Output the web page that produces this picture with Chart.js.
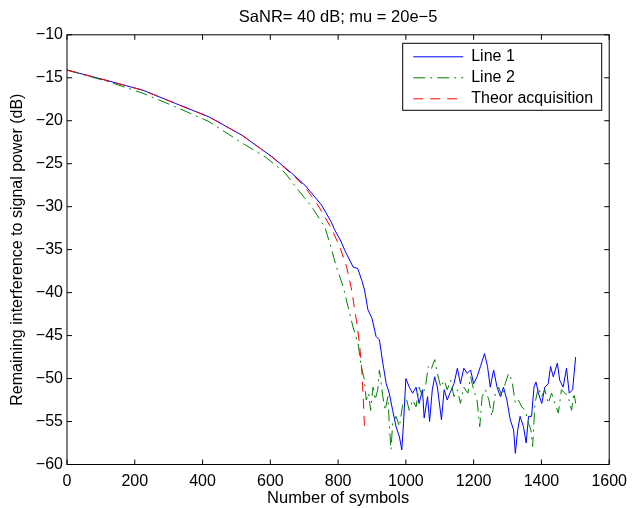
<!DOCTYPE html>
<html>
<head>
<meta charset="utf-8">
<script src="https://cdn.jsdelivr.net/npm/chart.js@4.4.1/dist/chart.umd.min.js"></script>
<style>
  body { margin: 0; background: #fff; }
  canvas { display: block; }
</style>
</head>
<body>
<canvas id="grafica" width="634" height="508"></canvas>
<script>
// ================== Datos ==================
const TITULO = "SaNR= 40 dB; mu = 20e\u22125";
const NOMBRES = ["Line 1", "Line 2", "Theor acquisition"];
const X_TICKS = [0, 200, 400, 600, 800, 1000, 1200, 1400, 1600];
const Y_TICKS = [-60, -55, -50, -45, -40, -35, -30, -25, -20, -15, -10];

const line1X = [0, 126, 224, 321, 419, 517, 605, 663, 702, 751,
  780, 790, 808, 820, 844, 858, 870, 878, 888, 900,
  912, 922, 932, 942, 951, 961, 971, 981, 988, 993,
  1000, 1010, 1020, 1030, 1039, 1049, 1054, 1064, 1070, 1078,
  1085, 1093, 1105, 1113, 1122, 1130, 1142, 1152, 1161, 1171,
  1181, 1191, 1200, 1210, 1220, 1232, 1241, 1249, 1259, 1269,
  1279, 1288, 1298, 1308, 1318, 1323, 1330, 1337, 1347, 1355,
  1362, 1371, 1378, 1384, 1391, 1401, 1410, 1420, 1427, 1435,
  1447, 1454, 1464, 1474, 1482, 1492, 1501];
const line1Y = [-14.1, -15.4, -16.45, -18.0, -19.55, -21.7, -24.2, -26.1, -27.5, -29.8,
  -31.8, -32.7, -34.0, -35.1, -37.0, -37.2, -38.6, -39.7, -42.0, -43.0,
  -45.1, -45.5, -48.2, -50.6, -51.7, -53.7, -55.6, -56.8, -58.3, -55.2,
  -50.0, -51.0, -51.7, -51.0, -52.9, -51.3, -54.6, -52.1, -55.0, -51.3,
  -49.8, -51.0, -54.8, -51.3, -52.5, -51.7, -50.6, -48.8, -50.6, -48.8,
  -49.4, -49.0, -50.6, -49.8, -48.6, -47.1, -48.6, -51.0, -49.0, -51.0,
  -52.1, -51.0, -52.5, -54.8, -56.0, -58.7, -56.0, -54.4, -55.6, -57.5,
  -54.4, -54.4, -51.0, -50.4, -51.7, -52.9, -51.0, -50.6, -48.6, -49.8,
  -48.2, -50.2, -51.0, -48.8, -51.7, -51.3, -47.5];

const line2X = [0, 126, 224, 321, 419, 517, 585, 644, 683, 722,
  761, 776, 795, 815, 829, 844, 859, 868, 878, 883,
  890, 896, 903, 909, 917, 922, 932, 939, 947, 951,
  956, 961, 971, 981, 991, 1000, 1010, 1020, 1030, 1039,
  1049, 1059, 1066, 1074, 1085, 1093, 1103, 1113, 1122, 1132,
  1142, 1152, 1161, 1171, 1183, 1191, 1200, 1210, 1218, 1225,
  1235, 1245, 1254, 1264, 1274, 1284, 1293, 1303, 1313, 1323,
  1332, 1342, 1352, 1362, 1369, 1374, 1381, 1391, 1401, 1410,
  1420, 1430, 1440, 1450, 1459, 1469, 1479, 1489, 1496, 1501];
const line2Y = [-14.1, -15.5, -16.8, -18.4, -20.1, -22.6, -24.2, -26.1, -28.1, -30.0,
  -32.4, -34.3, -37.0, -39.3, -41.6, -44.0, -45.9, -48.6, -50.2, -52.5,
  -51.7, -53.7, -51.0, -52.5, -51.3, -49.0, -52.1, -53.7, -52.1, -55.2,
  -58.3, -55.2, -54.4, -55.6, -52.9, -52.1, -53.7, -52.5, -53.3, -51.0,
  -52.1, -50.6, -48.6, -49.0, -47.8, -49.4, -51.0, -50.2, -51.3, -50.2,
  -52.1, -51.3, -52.9, -51.0, -51.7, -49.8, -51.3, -52.5, -55.6, -52.1,
  -51.3, -52.5, -54.4, -51.7, -51.0, -52.1, -50.6, -49.4, -50.2, -52.9,
  -52.5, -53.3, -53.7, -55.2, -56.0, -57.9, -52.9, -51.0, -52.1, -51.3,
  -52.9, -51.7, -52.9, -54.0, -51.3, -51.7, -52.1, -53.7, -51.7, -52.9];

const theorX = [0, 126, 224, 321, 419, 517, 605, 663, 702, 740,
  780, 805, 825, 840, 854, 863, 870, 874, 878];
const theorY = [-14.1, -15.4, -16.45, -18.0, -19.55, -21.7, -24.2, -26.2, -27.7, -29.8,
  -32.5, -34.7, -37.0, -39.7, -43.2, -45.9, -49.0, -52.1, -55.8];

// ================== Util ==================
function puntos(xs, ys) {
  return xs.map((x, i) => ({ x: x, y: ys[i] }));
}
function menos(v) {
  return v < 0 ? "\u2212" + (-v) : String(v);
}

// Marco tipo MATLAB: caja completa y ticks hacia dentro
const marco = {
  id: "marco",
  afterDatasetsDraw(chart) {
    const { ctx, chartArea: a, scales } = chart;
    ctx.save();
    ctx.strokeStyle = "#000";
    ctx.lineWidth = 1;
    ctx.strokeRect(a.left, a.top, a.right - a.left, a.bottom - a.top);
    ctx.beginPath();
    X_TICKS.forEach(v => {
      const px = scales.x.getPixelForValue(v);
      ctx.moveTo(px, a.bottom); ctx.lineTo(px, a.bottom - 5);
      ctx.moveTo(px, a.top); ctx.lineTo(px, a.top + 5);
    });
    Y_TICKS.forEach(v => {
      const py = scales.y.getPixelForValue(v);
      ctx.moveTo(a.left, py); ctx.lineTo(a.left + 5, py);
      ctx.moveTo(a.right, py); ctx.lineTo(a.right - 5, py);
    });
    ctx.stroke();
    ctx.restore();
  }
};

// Leyenda dentro del area, esquina superior derecha, con recuadro
const cajaLeyenda = {
  id: "cajaLeyenda",
  afterLayout(chart) {
    const lg = chart.legend, a = chart.chartArea;
    lg.left = a.right - 201;
    lg.top = a.top + 9;
  },
  afterDraw(chart) {
    const { ctx, chartArea: a } = chart;
    ctx.save();
    ctx.strokeStyle = "#000";
    ctx.lineWidth = 1;
    ctx.strokeRect(a.right - 206.5, a.top + 8.5, 199, 67);
    ctx.restore();
  }
};

// Muestras de linea con el mismo trazo que cada serie
function etiquetas(chart) {
  const items = Chart.defaults.plugins.legend.labels.generateLabels(chart);
  items.forEach(it => {
    const ds = chart.data.datasets[it.datasetIndex];
    it.lineDash = ds.borderDash || [];
    it.strokeStyle = ds.borderColor;
    it.fillStyle = ds.borderColor;
    it.lineWidth = 1;
  });
  return items;
}

// ================== Grafica ==================
Chart.defaults.font.family = "'Liberation Sans', Arial, sans-serif";
Chart.defaults.font.size = 16;
Chart.defaults.color = "#000";

new Chart(document.getElementById("grafica"), {
  type: "line",
  data: {
    datasets: [
      { label: NOMBRES[0], data: puntos(line1X, line1Y), borderColor: "#0000ff", backgroundColor: "#0000ff", order: 3 },
      { label: NOMBRES[1], data: puntos(line2X, line2Y), borderColor: "#008000", backgroundColor: "#008000", borderDash: [12, 5, 2, 5], order: 2 },
      { label: NOMBRES[2], data: puntos(theorX, theorY), borderColor: "#ff0000", backgroundColor: "#ff0000", borderDash: [10, 7], order: 1 }
    ]
  },
  options: {
    responsive: false,
    animation: false,
    datasets: { line: { borderWidth: 1, pointRadius: 0, tension: 0, fill: false } },
    layout: { padding: { top: 0, right: 21, bottom: 0, left: 0 } },
    plugins: {
      title: {
        display: true, text: TITULO, fullSize: false,
        font: { size: 16.5, weight: "normal" },
        padding: { top: 8, bottom: 7 }
      },
      legend: {
        position: "chartArea", align: "start",
        labels: {
          usePointStyle: true, pointStyle: "line", pointStyleWidth: 50,
          padding: 5, font: { size: 16 },
          generateLabels: etiquetas,
          sort: (a, b) => a.datasetIndex - b.datasetIndex
        }
      },
      tooltip: { enabled: false }
    },
    scales: {
      x: {
        type: "linear", min: 0, max: 1600,
        afterBuildTicks: s => { s.ticks = X_TICKS.map(v => ({ value: v })); },
        afterFit: s => { s.height = 43.5; },
        ticks: { padding: 7, maxRotation: 0, callback: v => String(v), font: { size: 16 } },
        grid: { display: false, drawTicks: false },
        border: { display: false },
        title: { display: true, text: "Number of symbols", font: { size: 16.5 }, padding: { top: 0, bottom: 0 } }
      },
      y: {
        type: "linear", min: -60, max: -10,
        afterBuildTicks: s => { s.ticks = Y_TICKS.map(v => ({ value: v })); },
        afterFit: s => { s.width = 67; },
        ticks: { padding: 4, callback: v => menos(v), font: { size: 16 } },
        grid: { display: false, drawTicks: false },
        border: { display: false },
        title: { display: true, text: "Remaining interference to signal power (dB)", font: { size: 16 }, padding: { top: 8, bottom: 0 } }
      }
    }
  },
  plugins: [marco, cajaLeyenda]
});
</script>
</body>
</html>
